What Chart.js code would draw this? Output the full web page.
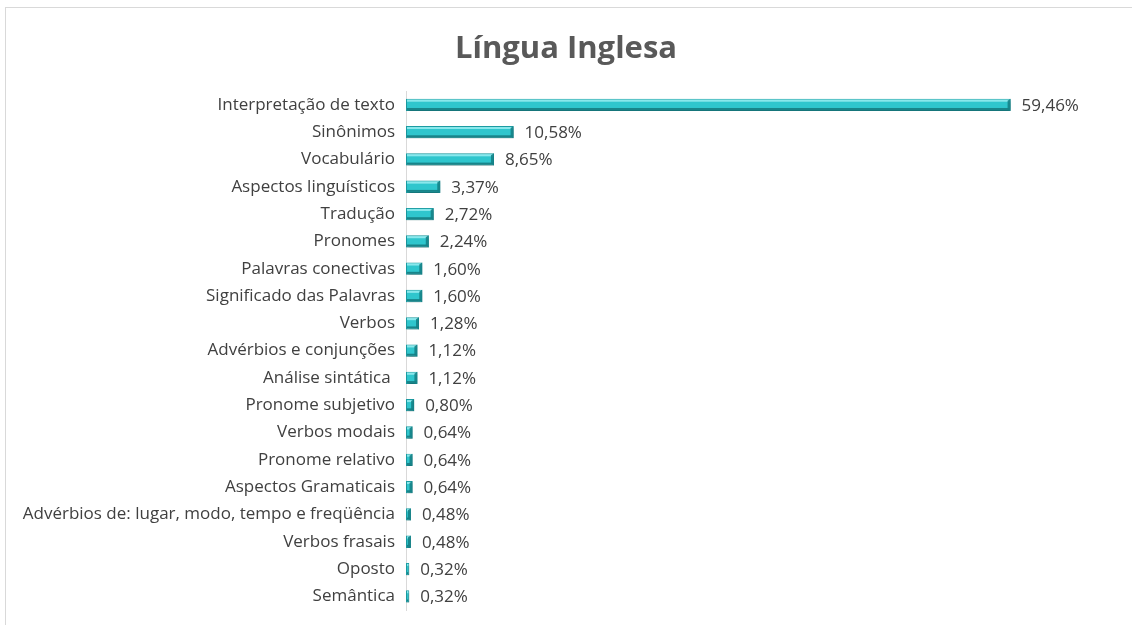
<!DOCTYPE html>
<html>
<head>
<meta charset="utf-8">
<script src="https://cdn.jsdelivr.net/npm/chart.js@4"></script>
<style>
  html, body { margin: 0; padding: 0; background: #fff; }
  #wrap { position: relative; width: 1132px; height: 625px; }
  #frame { position: absolute; left: 5px; top: 7px; width: 1140px; height: 640px;
           border: 1px solid #d9d9d9; box-sizing: border-box; }
  canvas { position: absolute; left: 0; top: 0; }
</style>
</head>
<body>
<div id="wrap">
  <div id="frame"></div>
  <canvas id="myChart" width="1132" height="625"></canvas>
</div>
<script>
const categorias = [
    'Interpretação de texto',
    'Sinônimos',
    'Vocabulário',
    'Aspectos linguísticos',
    'Tradução',
    'Pronomes',
    'Palavras conectivas',
    'Significado das Palavras',
    'Verbos',
    'Advérbios e conjunções',
    'Análise sintática ',
    'Pronome subjetivo',
    'Verbos modais',
    'Pronome relativo',
    'Aspectos Gramaticais',
    'Advérbios de: lugar, modo, tempo e freqüência',
    'Verbos frasais',
    'Oposto',
    'Semântica'
];
const porcentagens = [59.46, 10.58, 8.65, 3.37, 2.72, 2.24, 1.60, 1.60, 1.28, 1.12, 1.12, 0.80, 0.64, 0.64, 0.64, 0.48, 0.48, 0.32, 0.32];

const FONTE = "'Open Sans', 'Noto Sans', sans-serif";

// sombra + bisel 3D + rótulos de valor
const estiloBarras = {
    id: 'estiloBarras',
    beforeDatasetsDraw(chart) {
        const ctx = chart.ctx;
        ctx.save();
        ctx.shadowColor = 'rgba(0,0,0,0.35)';
        ctx.shadowBlur = 3;
        ctx.shadowOffsetX = 1;
        ctx.shadowOffsetY = 2;
    },
    afterDatasetsDraw(chart) {
        const ctx = chart.ctx;
        ctx.restore();
        const meta = chart.getDatasetMeta(0);
        meta.data.forEach((bar, i) => {
            const x0 = bar.base, x1 = bar.x;
            const h = bar.height, top = bar.y - h / 2, bot = bar.y + h / 2;
            const w = x1 - x0;
            // faixa clara em cima
            ctx.fillStyle = 'rgba(160,240,244,0.8)';
            ctx.fillRect(x0 + 1, top + 1, Math.max(w - 2, 0), 2);
            // faixa escura embaixo
            ctx.fillStyle = 'rgba(20,120,125,0.85)';
            ctx.fillRect(x0 + 1, bot - 3, Math.max(w - 2, 0), 2);
            // ponta escura
            if (w > 4) {
                ctx.fillStyle = 'rgba(20,130,135,0.9)';
                ctx.beginPath();
                ctx.moveTo(x1 - 3, top + 2);
                ctx.lineTo(x1, top);
                ctx.lineTo(x1, bot);
                ctx.lineTo(x1 - 3, bot - 2);
                ctx.closePath();
                ctx.fill();
            }
            // rótulo
            ctx.fillStyle = '#404040';
            ctx.font = '17px ' + FONTE;
            ctx.textAlign = 'left';
            ctx.textBaseline = 'middle';
            const txt = porcentagens[i].toFixed(2).replace('.', ',') + '%';
            ctx.fillText(txt, x1 + 11, bar.y + 1);
        });
    }
};

const ctx = document.getElementById('myChart');
new Chart(ctx, {
    type: 'bar',
    data: {
        labels: categorias,
        datasets: [{
            data: porcentagens,
            backgroundColor: '#2fc6cd',
            borderColor: '#1d9ea4',
            borderWidth: 1,
            borderSkipped: false,
            barPercentage: 0.9,
            categoryPercentage: 0.5
        }]
    },
    plugins: [estiloBarras],
    options: {
        indexAxis: 'y',
        responsive: false,
        animation: false,
        layout: {
            padding: { left: 0, right: 0, top: 0, bottom: 15 }
        },
        scales: {
            x: {
                display: false,
                min: 0,
                max: 71.4
            },
            y: {
                afterFit(scale) {
                    scale.width = 406;
                    scale.paddingTop = 0;
                    scale.paddingBottom = 0;
                },
                grid: { display: false, drawTicks: false },
                border: { display: true, color: '#d9d9d9', width: 1 },
                ticks: {
                    padding: 11,
                    color: '#404040',
                    font: { size: 17, family: FONTE }
                }
            }
        },
        plugins: {
            legend: false,
            tooltip: { enabled: false },
            title: {
                display: true,
                text: 'Língua Inglesa',
                color: '#595959',
                font: { size: 31, weight: 'bold', family: FONTE },
                padding: { top: 31, bottom: 23 }
            }
        }
    }
});
</script>
</body>
</html>
